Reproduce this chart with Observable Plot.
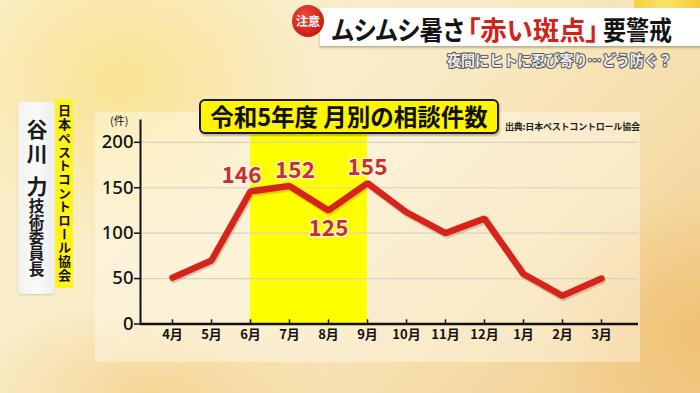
<!DOCTYPE html>
<html>
<head>
<meta charset="utf-8">
<script src="https://cdn.jsdelivr.net/npm/d3@7"></script>
<script src="https://cdn.jsdelivr.net/npm/@observablehq/plot@0.6"></script>
<style>
  html, body { margin: 0; padding: 0; }
  body { width: 700px; height: 393px; overflow: hidden; position: relative;
         font-family: "Noto Sans CJK JP", "Noto Sans", sans-serif; }
  #bg { position: absolute; left: 0; top: 0; width: 700px; height: 393px;
        background:
          radial-gradient(ellipse 200px 170px at 120px 80px, rgba(249,224,128,0.75), rgba(249,224,128,0) 100%),
          radial-gradient(ellipse 160px 140px at 700px 330px, rgba(240,190,110,0.8), rgba(240,190,110,0) 100%),
          radial-gradient(ellipse 180px 90px at 150px 393px, rgba(244,205,130,0.7), rgba(244,205,130,0) 100%),
          linear-gradient(135deg, #fbf0d0 0%, #f9ebc6 45%, #f5dca8 75%, #f2cc8c 100%); }
  #panel { position: absolute; left: 95px; top: 112px; width: 545px; height: 250px;
           background: rgba(255,252,240,0.42); }
  #chart { position: absolute; left: 0; top: 0; }
  #titlebox { position: absolute; left: 199px; top: 99px; width: 296px; height: 31px;
              border: 2px solid #1a1a1a; border-radius: 6px; background: #fff500;
              box-shadow: 1px 2px 2px rgba(0,0,0,0.25);
              font-size: 23.5px; font-weight: bold; color: #111; line-height: 31px; text-align: center;
              white-space: nowrap; }
  #source { position: absolute; left: 505px; top: 120px; font-size: 9px; font-weight: bold; color: #222;
            white-space: nowrap; letter-spacing: -0.2px; }
  #unit { position: absolute; left: 110px; top: 115px; font-size: 11px; line-height: 11px; color: #111; white-space: nowrap; }
  #nameplate { position: absolute; left: 18px; top: 102px; width: 37px; height: 192px;
               background: linear-gradient(90deg, #f2f2f0, #fafafa 50%, #ececea); border-radius: 4px;
               box-shadow: 0 1px 2px rgba(0,0,0,0.15); }
  #name1 { position: absolute; left: 26px; top: 119px; writing-mode: vertical-rl; font-size: 21px;
           font-weight: bold; color: #1a1a1a; line-height: 21px; letter-spacing: 3px; }
  #name2 { position: absolute; left: 26px; top: 176px; writing-mode: vertical-rl; font-size: 21px;
           font-weight: bold; color: #1a1a1a; line-height: 21px; }
  #role { position: absolute; left: 28.5px; top: 198px; writing-mode: vertical-rl; font-size: 15.5px;
          font-weight: bold; color: #1a1a1a; line-height: 16px; letter-spacing: 0.4px; }
  #org { position: absolute; left: 55px; top: 99px; width: 18px; height: 189px; background: #fff31a; }
  #orgtext { position: absolute; left: 56px; top: 104px; writing-mode: vertical-rl; font-size: 13px;
             font-weight: bold; color: #111; line-height: 16px; letter-spacing: 0.7px; white-space: nowrap; }
  #header { position: absolute; left: 0; top: 0; }
  .palt { font-feature-settings: "palt" 1; }
</style>
</head>
<body>
<div id="bg"></div>
<div id="panel"></div>
<div id="chart"></div>
<div id="titlebox">令和5年度 月別の相談件数</div>
<div id="source">出典:日本ペストコントロール協会</div>
<div id="unit">(件)</div>
<div id="nameplate"></div>
<div id="name1">谷川</div>
<div id="name2">力</div>
<div id="role">技術委員長</div>
<div id="org"></div>
<div id="orgtext">日本ペストコントロール協会</div>
<svg id="header" width="700" height="90" xmlns="http://www.w3.org/2000/svg">
  <defs>
    <radialGradient id="yel" cx="0.45" cy="0.5" r="0.6">
      <stop offset="0" stop-color="#fbe36a"/>
      <stop offset="1" stop-color="#f5c92e"/>
    </radialGradient>
    <radialGradient id="org" cx="0.35" cy="0.35" r="0.7">
      <stop offset="0" stop-color="#fb9a3c"/>
      <stop offset="1" stop-color="#ea5a10"/>
    </radialGradient>
    <radialGradient id="redc" cx="0.4" cy="0.35" r="0.7">
      <stop offset="0" stop-color="#ee4a3a"/>
      <stop offset="1" stop-color="#c41a12"/>
    </radialGradient>
    <filter id="sh" x="-5%" y="-20%" width="110%" height="150%">
      <feDropShadow dx="0" dy="1.5" stdDeviation="1.2" flood-color="#000" flood-opacity="0.3"/>
    </filter>
  </defs>
  <circle cx="668" cy="2" r="34" fill="url(#yel)"/>
  <rect x="320" y="8" width="385" height="38" fill="#ffffff" filter="url(#sh)"/>
  <circle cx="703" cy="31" r="22" fill="url(#org)"/>
  <circle cx="308" cy="21" r="16" fill="url(#redc)"/>
  <text x="308" y="25.5" text-anchor="middle" font-size="12" font-weight="bold" fill="#fff"
        font-family="Noto Sans CJK JP">注意</text>
  <g transform="scale(1,1.2)">
    <text class="palt" x="332" y="33.4" font-size="22" font-weight="bold" textLength="132" lengthAdjust="spacingAndGlyphs"
          font-family="Noto Sans CJK JP" fill="#141414">ムシムシ暑さ</text>
    <text class="palt" x="467" y="33.4" font-size="22" font-weight="bold" textLength="132" lengthAdjust="spacingAndGlyphs"
          font-family="Noto Sans CJK JP" fill="#d2231b">「赤い斑点」</text>
    <text class="palt" x="603" y="33.4" font-size="22" font-weight="bold" textLength="69" lengthAdjust="spacingAndGlyphs"
          font-family="Noto Sans CJK JP" fill="#141414">要警戒</text>
  </g>
  <text x="447" y="66" font-size="15" font-weight="bold" textLength="225" lengthAdjust="spacingAndGlyphs"
        font-family="Noto Sans CJK JP" fill="#eeeeee" stroke="#5a5a5a" stroke-width="2.2"
        paint-order="stroke" stroke-linejoin="round">夜間にヒトに忍び寄り…どう防ぐ？</text>
</svg>
<script>
// ---- data ----
const months = ["4月","5月","6月","7月","8月","9月","10月","11月","12月","1月","2月","3月"];
const counts = [51, 70, 146, 152, 125, 155, 123, 100, 116, 55, 31, 50];
const labelMonths = ["6月","7月","8月","9月"];
const labelValues = [146, 152, 125, 155];
const highlightFrom = "6月";
const highlightTo = "9月";
const yTicks = [0, 50, 100, 150, 200];
const gridValues = [50, 100, 150, 200];
const yMax = 224;

const data = months.map((m, i) => ({month: m, count: counts[i]}));

// label offsets (style only)
const offsets = {"6月": [-9, -16], "7月": [5.5, -15.5], "8月": [0, 18.5], "9月": [0, -15.5]};

const labelMarks = labelMonths.map((m, i) =>
  Plot.text([{month: m, count: labelValues[i]}], {
    x: "month", y: "count", text: d => String(d.count),
    dx: offsets[m][0], dy: offsets[m][1],
    fill: "#c92f29", stroke: "#fff6ee", strokeWidth: 2.5, paintOrder: "stroke",
    fontSize: 22.5, fontWeight: "bold"
  })
);

const chart = Plot.plot({
  width: 700, height: 393,
  marginLeft: 140, marginRight: 62, marginTop: 120, marginBottom: 69.5,
  style: {background: "transparent", fontFamily: "'Noto Sans CJK JP', 'Noto Sans', sans-serif", overflow: "visible", color: "#111"},
  x: {type: "point", domain: months, range: [170.4, 603.4], padding: 0, label: null},
  y: {domain: [0, yMax], label: null},
  marks: [
    Plot.rect([{a: highlightFrom, b: highlightTo}], {x1: "a", x2: "b", y1: 0, y2: yMax, fill: "#ffff00"}),
    Plot.ruleY(gridValues, {stroke: "#d8d2c2", strokeWidth: 1.2}),
    Plot.axisY({ticks: yTicks, tickSize: 6, tickPadding: 1, fontSize: 18.5, fontWeight: 500, fontFamily: "'Noto Sans', sans-serif", label: null, strokeWidth: 1.5}),
    Plot.axisX({tickSize: 0, tickPadding: 6, fontSize: 13, fontWeight: "bold", label: null}),
    Plot.ruleX(months, {x: d => d, y1: 0, y2: 4.6, stroke: "#111", strokeWidth: 1.5}),
    Plot.frame({anchor: "left", stroke: "#111", strokeWidth: 2}),
    Plot.ruleY([0], {stroke: "#111", strokeWidth: 2.5}),
    Plot.line(data, {x: "month", y: "count", stroke: "#5a1a10", strokeOpacity: 0.18, strokeWidth: 7, dx: 1, dy: 2, strokeLinejoin: "miter"}),
    Plot.line(data, {x: "month", y: "count", stroke: "#d6241a", strokeWidth: 6.5, strokeLinejoin: "miter"}),
    ...labelMarks
  ]
});
document.getElementById("chart").appendChild(chart);
</script>
</body>
</html>
